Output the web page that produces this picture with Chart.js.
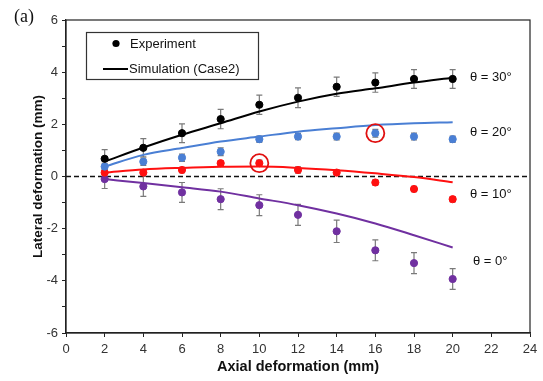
<!DOCTYPE html>
<html>
<head>
<meta charset="utf-8">
<script src="https://cdn.jsdelivr.net/npm/chart.js@4"></script>
<style>
  html, body { margin: 0; padding: 0; background: #fff; }
  #wrap { position: relative; width: 543px; height: 381px; }
</style>
</head>
<body>
<div id="wrap"><canvas id="deformChart" width="543" height="381"></canvas></div>
<script>
// axial deformation (mm)
const axial = [2, 4, 6, 8, 10, 12, 14, 16, 18, 20];

// experiment (mean lateral deformation, mm) and error half-widths
const exp30 = [0.68, 1.10, 1.66, 2.20, 2.75, 3.02, 3.44, 3.60, 3.74, 3.74];
const err30 = [0.35, 0.35, 0.36, 0.37, 0.37, 0.38, 0.37, 0.37, 0.36, 0.36];
const exp20 = [0.38, 0.57, 0.72, 0.95, 1.43, 1.53, 1.53, 1.66, 1.53, 1.43];
const err20 = [0.12, 0.14, 0.14, 0.15, 0.12, 0.12, 0.13, 0.15, 0.13, 0.12];
const exp10 = [0.15, 0.15, 0.25, 0.51, 0.51, 0.25, 0.15, -0.23, -0.48, -0.87];
const err10 = [0.08, 0.08, 0.10, 0.10, 0.12, 0.12, 0.10, 0.10, 0.10, 0.10];
const exp0  = [-0.10, -0.38, -0.61, -0.87, -1.10, -1.47, -2.10, -2.83, -3.32, -3.93];
const err0  = [0.36, 0.38, 0.38, 0.40, 0.40, 0.40, 0.43, 0.40, 0.40, 0.40];

// simulation (Case2)
const sim30 = [0.57, 1.11, 1.60, 2.04, 2.49, 2.87, 3.17, 3.38, 3.60, 3.79];
const sim20 = [0.38, 0.83, 1.09, 1.34, 1.53, 1.72, 1.85, 1.97, 2.04, 2.08];
const sim10 = [0.15, 0.27, 0.33, 0.37, 0.38, 0.33, 0.24, 0.12, -0.02, -0.22];
const sim0  = [-0.10, -0.25, -0.41, -0.58, -0.84, -1.10, -1.42, -1.80, -2.25, -2.72];

// highlighted points (circled in red)
const circled = [{ x: 10, y: 0.51 }, { x: 16, y: 1.66 }];

// angle labels
const angleLabels = [
    { text: 'θ = 30°', x: 470, y: 3.8 },
    { text: 'θ = 20°', x: 470, y: 1.7 },
    { text: 'θ = 10°', x: 470, y: -0.7 },
    { text: 'θ = 0°',  x: 473, y: -3.27 }
];

const xTicks = [0, 2, 4, 6, 8, 10, 12, 14, 16, 18, 20, 22, 24];

const BLACK = '#000000', BLUE = '#4a7fd4', RED = '#ff1010', PURPLE = '#7030a0';
const FONT = '"Liberation Sans", Arial, sans-serif';

function pts(ys) {
    return axial.map((x, i) => ({ x: x, y: ys[i] }));
}

function expSet(ys, errs, color) {
    return {
        type: 'scatter', data: pts(ys), errors: errs,
        backgroundColor: color, borderColor: color,
        pointRadius: 3.6, pointHoverRadius: 3.6, showLine: false, order: 1
    };
}

function simSet(ys, color) {
    return {
        type: 'line', data: pts(ys), borderColor: color, borderWidth: 2,
        pointRadius: 0, tension: 0.4, cubicInterpolationMode: 'monotone', fill: false, order: 2
    };
}

// error bars, drawn behind the points
const errorBars = {
    id: 'errorBars',
    beforeDatasetsDraw(chart) {
        const ctx = chart.ctx;
        const xs = chart.scales.x, ys = chart.scales.y;
        ctx.save();
        ctx.strokeStyle = '#7a7a7a';
        ctx.lineWidth = 1.2;
        chart.data.datasets.forEach(ds => {
            if (!ds.errors) return;
            ds.data.forEach((p, i) => {
                const px = xs.getPixelForValue(p.x);
                const top = ys.getPixelForValue(p.y + ds.errors[i]);
                const bot = ys.getPixelForValue(p.y - ds.errors[i]);
                ctx.beginPath();
                ctx.moveTo(px, top); ctx.lineTo(px, bot);
                ctx.moveTo(px - 3, top); ctx.lineTo(px + 3, top);
                ctx.moveTo(px - 3, bot); ctx.lineTo(px + 3, bot);
                ctx.stroke();
            });
        });
        ctx.restore();
    }
};

// frame, legend box, angle labels and panel tag
const decorations = {
    id: 'decorations',
    afterDraw(chart) {
        const ctx = chart.ctx;
        const a = chart.chartArea;
        const ys = chart.scales.y;
        ctx.save();
        ctx.strokeStyle = '#222';
        ctx.lineWidth = 1.2;
        ctx.strokeRect(a.left, a.top, a.right - a.left, a.bottom - a.top);

        // legend
        ctx.strokeStyle = '#333';
        ctx.strokeRect(86.5, 32.5, 172, 47);
        ctx.fillStyle = '#000';
        ctx.beginPath();
        ctx.arc(116, 43.5, 3.6, 0, Math.PI * 2);
        ctx.fill();
        ctx.lineWidth = 2;
        ctx.strokeStyle = '#000';
        ctx.beginPath();
        ctx.moveTo(103, 69); ctx.lineTo(128, 69);
        ctx.stroke();
        ctx.font = '13px ' + FONT;
        ctx.textBaseline = 'middle';
        ctx.textAlign = 'left';
        ctx.fillStyle = '#111';
        ctx.fillText('Experiment', 130, 44);
        ctx.fillText('Simulation (Case2)', 129, 69);

        // angle labels
        angleLabels.forEach(l => {
            ctx.fillText(l.text, l.x, ys.getPixelForValue(l.y));
        });

        ctx.font = '18px "Liberation Serif", "Times New Roman", serif';
        ctx.fillText('(a)', 14, 17);
        ctx.restore();
    }
};

new Chart(document.getElementById('deformChart'), {
    data: {
        datasets: [
            expSet(exp30, err30, BLACK),
            expSet(exp20, err20, BLUE),
            expSet(exp10, err10, RED),
            expSet(exp0, err0, PURPLE),
            simSet(sim30, BLACK),
            simSet(sim20, BLUE),
            simSet(sim10, RED),
            simSet(sim0, PURPLE),
            {
                type: 'line', data: [{ x: 0, y: 0 }, { x: 24, y: 0 }],
                borderColor: '#111', borderWidth: 1.3, borderDash: [5, 3], pointRadius: 0, order: 3
            },
            {
                type: 'scatter', data: circled, pointRadius: 9, pointHoverRadius: 9,
                borderColor: '#e01010', borderWidth: 1.8, backgroundColor: 'rgba(0,0,0,0)', order: 0
            }
        ]
    },
    plugins: [errorBars, decorations],
    options: {
        responsive: false,
        animation: false,
        layout: { padding: { left: 30, right: 13, top: 20, bottom: 5 } },
        plugins: { legend: { display: false }, tooltip: { enabled: false } },
        scales: {
            x: {
                type: 'linear', min: 0, max: 24,
                afterBuildTicks: s => { s.ticks = xTicks.map(v => ({ value: v })); },
                afterFit: s => { s.height = 43; },
                grid: { drawOnChartArea: false, drawTicks: true, tickLength: 4, color: '#222' },
                border: { color: '#222', width: 1.2 },
                ticks: { color: '#333', padding: 5, font: { size: 13, family: FONT } },
                title: {
                    display: true, text: 'Axial deformation (mm)', color: '#111', padding: { top: 0, bottom: 0 },
                    font: { size: 14.5, weight: 'bold', family: FONT }
                }
            },
            y: {
                type: 'linear', min: -6, max: 6,
                ticks: {
                    stepSize: 1, color: '#333', padding: 4,
                    font: { size: 13, family: FONT },
                    callback: v => (v % 2 === 0 ? v : '')
                },
                afterFit: s => { s.width = 36; },
                grid: { drawOnChartArea: false, drawTicks: true, tickLength: 4, color: '#222' },
                border: { color: '#222', width: 1.2 },
                title: {
                    display: true, text: 'Lateral deformation (mm)', color: '#111', padding: { top: 0, bottom: 0 },
                    font: { size: 13.5, weight: 'bold', family: FONT }
                }
            }
        }
    }
});
</script>
</body>
</html>
